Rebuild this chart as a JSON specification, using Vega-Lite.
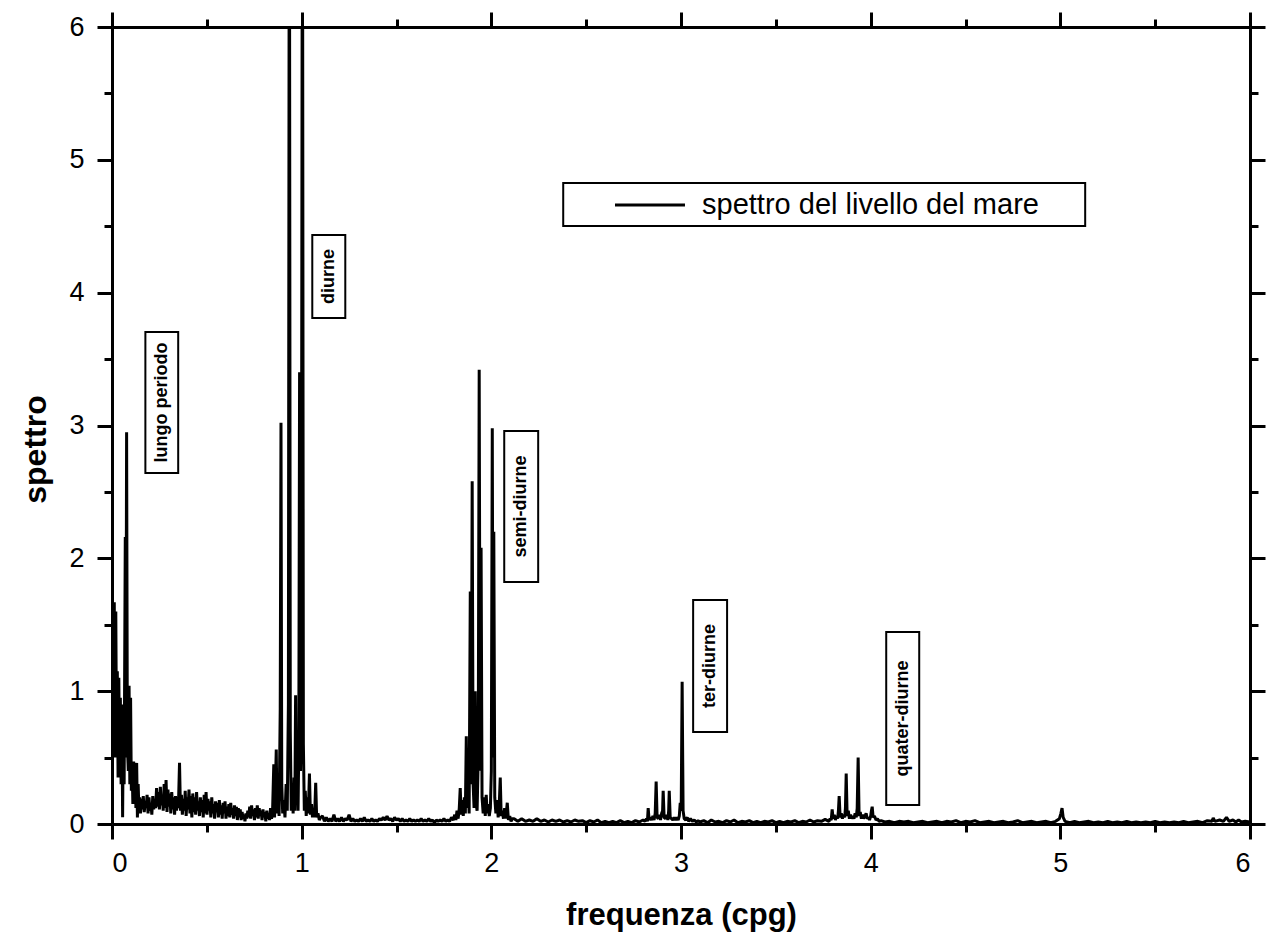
{
"$schema": "https://vega.github.io/schema/vega-lite/v6.json",
"width": 1138, "height": 797,
"autosize": {"type": "none"},
"padding": {"left": 112, "top": 27, "right": 18, "bottom": 113},
"background": "white",
"config": {"view": {"stroke": null}, "font": "Liberation Sans",
 "axis": {"domainColor": "black", "domainWidth": 3, "tickColor": "black", "tickWidth": 3, "labelColor": "black", "titleColor": "black", "labelFont": "Liberation Sans", "titleFont": "Liberation Sans", "grid": false}},
"datasets": {
"spec": [
{"f":0,"s":0.45},{"f":0.004,"s":1.55},{"f":0.008,"s":0.6},{"f":0.012,"s":1.67},{"f":0.016,"s":0.5},{"f":0.02,"s":1.6},{"f":0.024,"s":0.55},{"f":0.028,"s":1.15},{"f":0.032,"s":0.35},{"f":0.036,"s":1.1},{"f":0.04,"s":0.4},{"f":0.044,"s":0.95},{"f":0.048,"s":0.3},{"f":0.052,"s":0.9},{"f":0.056,"s":0.05},{"f":0.06,"s":0.85},{"f":0.064,"s":0.3},{"f":0.07,"s":2.16},{"f":0.073,"s":0.5},{"f":0.077,"s":2.95},{"f":0.081,"s":0.6},{"f":0.086,"s":0.4},{"f":0.09,"s":1.04},{"f":0.094,"s":0.3},{"f":0.098,"s":0.95},{"f":0.102,"s":0.25},{"f":0.106,"s":0.45},{"f":0.11,"s":0.15},{"f":0.114,"s":0.47},{"f":0.118,"s":0.2},{"f":0.122,"s":0.45},{"f":0.126,"s":0.12},{"f":0.13,"s":0.46},{"f":0.134,"s":0.05},{"f":0.138,"s":0.3},{"f":0.142,"s":0.1},{"f":0.146,"s":0.2},
{"f":0.15,"s":0.08},{"f":0.155,"s":0.19},{"f":0.16,"s":0.11},{"f":0.165,"s":0.21},{"f":0.17,"s":0.09},{"f":0.175,"s":0.17},{"f":0.18,"s":0.12},{"f":0.185,"s":0.22},{"f":0.19,"s":0.08},{"f":0.195,"s":0.2},{"f":0.2,"s":0.1},{"f":0.205,"s":0.16},{"f":0.21,"s":0.07},{"f":0.215,"s":0.21},{"f":0.22,"s":0.11},{"f":0.225,"s":0.18},{"f":0.23,"s":0.12},{"f":0.235,"s":0.27},{"f":0.24,"s":0.13},{"f":0.245,"s":0.24},{"f":0.25,"s":0.11},{"f":0.255,"s":0.28},{"f":0.26,"s":0.14},{"f":0.265,"s":0.22},{"f":0.27,"s":0.1},{"f":0.275,"s":0.3},{"f":0.28,"s":0.12},{"f":0.285,"s":0.33},{"f":0.29,"s":0.09},{"f":0.295,"s":0.26},{"f":0.3,"s":0.13},{"f":0.305,"s":0.23},{"f":0.31,"s":0.08},{"f":0.315,"s":0.24},{"f":0.32,"s":0.11},{"f":0.325,"s":0.2},{"f":0.33,"s":0.07},{"f":0.335,"s":0.21},{"f":0.34,"s":0.1},{"f":0.345,"s":0.17},{"f":0.35,"s":0.12},{"f":0.356,"s":0.46},{"f":0.361,"s":0.1},{"f":0.366,"s":0.22},{"f":0.371,"s":0.07},{"f":0.376,"s":0.19},{"f":0.381,"s":0.1},{"f":0.386,"s":0.25},{"f":0.391,"s":0.06},{"f":0.396,"s":0.2},{"f":0.401,"s":0.11},{"f":0.406,"s":0.26},{"f":0.411,"s":0.08},{"f":0.416,"s":0.21},{"f":0.421,"s":0.05},{"f":0.426,"s":0.23},{"f":0.431,"s":0.09},{"f":0.436,"s":0.2},{"f":0.441,"s":0.07},{"f":0.446,"s":0.24},{"f":0.451,"s":0.1},{"f":0.456,"s":0.17},{"f":0.461,"s":0.06},{"f":0.466,"s":0.2},{"f":0.471,"s":0.09},{"f":0.476,"s":0.18},{"f":0.481,"s":0.05},{"f":0.486,"s":0.22},{"f":0.491,"s":0.08},{"f":0.496,"s":0.24},{"f":0.501,"s":0.07},{"f":0.506,"s":0.19},{"f":0.511,"s":0.1},{"f":0.516,"s":0.17},{"f":0.521,"s":0.05},{"f":0.526,"s":0.2},{"f":0.531,"s":0.08},{"f":0.536,"s":0.15},{"f":0.541,"s":0.04},{"f":0.546,"s":0.17},{"f":0.551,"s":0.09},{"f":0.556,"s":0.16},{"f":0.561,"s":0.05},{"f":0.566,"s":0.18},{"f":0.571,"s":0.07},{"f":0.576,"s":0.14},{"f":0.581,"s":0.04},{"f":0.586,"s":0.16},{"f":0.591,"s":0.08},{"f":0.596,"s":0.17},{"f":0.601,"s":0.04},{"f":0.606,"s":0.13},{"f":0.611,"s":0.06},{"f":0.616,"s":0.15},{"f":0.621,"s":0.05},{"f":0.626,"s":0.16},{"f":0.631,"s":0.07},{"f":0.636,"s":0.12},{"f":0.641,"s":0.04},{"f":0.646,"s":0.14},{"f":0.651,"s":0.06},{"f":0.656,"s":0.13},{"f":0.661,"s":0.03},{"f":0.666,"s":0.12},{"f":0.671,"s":0.05},{"f":0.676,"s":0.11},{"f":0.681,"s":0.03},{"f":0.686,"s":0.09},{"f":0.691,"s":0.04},{"f":0.696,"s":0.07},{"f":0.701,"s":0.02},{"f":0.706,"s":0.08},{"f":0.711,"s":0.04},{"f":0.716,"s":0.1},{"f":0.721,"s":0.05},{"f":0.726,"s":0.13},{"f":0.731,"s":0.04},{"f":0.736,"s":0.14},{"f":0.741,"s":0.06},{"f":0.746,"s":0.11},{"f":0.751,"s":0.03},{"f":0.756,"s":0.12},{"f":0.761,"s":0.05},{"f":0.766,"s":0.14},{"f":0.771,"s":0.04},{"f":0.776,"s":0.12},{"f":0.781,"s":0.06},{"f":0.786,"s":0.1},{"f":0.791,"s":0.03},{"f":0.796,"s":0.11},{"f":0.801,"s":0.05},{"f":0.806,"s":0.09},{"f":0.811,"s":0.02},{"f":0.816,"s":0.1},{"f":0.821,"s":0.04},{"f":0.826,"s":0.08},{"f":0.831,"s":0.03},{"f":0.836,"s":0.12},{"f":0.841,"s":0.04},{"f":0.846,"s":0.07},
{"f":0.853,"s":0.45},{"f":0.857,"s":0.05},{"f":0.862,"s":0.3},{"f":0.866,"s":0.56},{"f":0.87,"s":0.08},{"f":0.876,"s":0.2},{"f":0.881,"s":0.06},{"f":0.887,"s":0.87},{"f":0.891,"s":3.02},{"f":0.895,"s":0.3},{"f":0.9,"s":0.08},{"f":0.906,"s":0.18},{"f":0.912,"s":0.05},{"f":0.918,"s":0.3},{"f":0.924,"s":0.1},{"f":0.93,"s":0.9},{"f":0.935,"s":8},{"f":0.94,"s":0.7},{"f":0.945,"s":0.1},{"f":0.95,"s":0.3},{"f":0.955,"s":0.08},{"f":0.96,"s":0.35},{"f":0.964,"s":0.1},{"f":0.968,"s":0.97},{"f":0.972,"s":0.15},{"f":0.977,"s":0.3},{"f":0.981,"s":0.1},{"f":0.985,"s":0.6},{"f":0.989,"s":3.4},{"f":0.994,"s":0.4},{"f":0.998,"s":0.8},{"f":1.004,"s":8},{"f":1.009,"s":0.6},{"f":1.014,"s":0.1},{"f":1.019,"s":0.25},{"f":1.024,"s":0.06},{"f":1.03,"s":0.2},{"f":1.035,"s":0.08},{"f":1.041,"s":0.38},{"f":1.046,"s":0.07},{"f":1.052,"s":0.15},{"f":1.057,"s":0.05},{"f":1.063,"s":0.12},{"f":1.068,"s":0.05},{"f":1.074,"s":0.31},{"f":1.079,"s":0.05},{"f":1.086,"s":0.08},{"f":1.093,"s":0.03},{"f":1.1,"s":0.05},
{"f":1.11,"s":0.06},{"f":1.12,"s":0.02},{"f":1.13,"s":0.05},{"f":1.14,"s":0.02},{"f":1.15,"s":0.04},{"f":1.16,"s":0.02},{"f":1.17,"s":0.07},{"f":1.18,"s":0.02},{"f":1.19,"s":0.04},{"f":1.2,"s":0.02},{"f":1.21,"s":0.05},{"f":1.22,"s":0.02},{"f":1.23,"s":0.04},{"f":1.24,"s":0.03},{"f":1.25,"s":0.07},{"f":1.26,"s":0.02},{"f":1.27,"s":0.04},{"f":1.28,"s":0.02},{"f":1.29,"s":0.03},{"f":1.3,"s":0.02},{"f":1.31,"s":0.04},{"f":1.32,"s":0.02},{"f":1.33,"s":0.05},{"f":1.34,"s":0.02},{"f":1.35,"s":0.03},{"f":1.36,"s":0.02},{"f":1.37,"s":0.04},{"f":1.38,"s":0.02},{"f":1.39,"s":0.03},{"f":1.4,"s":0.02},{"f":1.41,"s":0.04},{"f":1.42,"s":0.03},{"f":1.43,"s":0.05},{"f":1.44,"s":0.03},{"f":1.45,"s":0.06},{"f":1.46,"s":0.03},{"f":1.47,"s":0.04},{"f":1.48,"s":0.02},{"f":1.49,"s":0.05},{"f":1.5,"s":0.03},{"f":1.51,"s":0.04},{"f":1.52,"s":0.02},{"f":1.53,"s":0.04},{"f":1.54,"s":0.02},{"f":1.55,"s":0.03},{"f":1.56,"s":0.02},{"f":1.57,"s":0.04},{"f":1.58,"s":0.02},{"f":1.59,"s":0.03},{"f":1.6,"s":0.02},{"f":1.61,"s":0.03},{"f":1.62,"s":0.02},{"f":1.63,"s":0.04},{"f":1.64,"s":0.02},{"f":1.65,"s":0.03},{"f":1.66,"s":0.02},{"f":1.67,"s":0.04},{"f":1.68,"s":0.02},{"f":1.69,"s":0.03},{"f":1.7,"s":0.01},{"f":1.71,"s":0.03},{"f":1.72,"s":0.02},{"f":1.73,"s":0.03},{"f":1.74,"s":0.02},{"f":1.75,"s":0.04},{"f":1.76,"s":0.02},{"f":1.77,"s":0.03},{"f":1.78,"s":0.02},{"f":1.79,"s":0.05},
{"f":1.8,"s":0.03},{"f":1.807,"s":0.07},{"f":1.813,"s":0.03},{"f":1.819,"s":0.1},{"f":1.825,"s":0.04},{"f":1.831,"s":0.12},{"f":1.836,"s":0.27},{"f":1.841,"s":0.07},{"f":1.847,"s":0.18},{"f":1.852,"s":0.06},{"f":1.858,"s":0.2},{"f":1.863,"s":0.08},{"f":1.868,"s":0.66},{"f":1.873,"s":0.12},{"f":1.878,"s":0.3},{"f":1.883,"s":0.08},{"f":1.889,"s":1.75},{"f":1.894,"s":0.3},{"f":1.899,"s":2.58},{"f":1.904,"s":0.3},{"f":1.909,"s":0.12},{"f":1.915,"s":1.0},{"f":1.92,"s":0.15},{"f":1.925,"s":0.1},{"f":1.931,"s":0.5},{"f":1.936,"s":3.42},{"f":1.941,"s":0.4},{"f":1.946,"s":2.08},{"f":1.951,"s":0.2},{"f":1.957,"s":0.08},{"f":1.962,"s":0.2},{"f":1.968,"s":0.06},{"f":1.973,"s":0.22},{"f":1.978,"s":0.08},{"f":1.984,"s":0.15},{"f":1.989,"s":0.06},{"f":1.995,"s":0.12},{"f":2.0,"s":0.4},{"f":2.005,"s":2.98},{"f":2.009,"s":0.5},{"f":2.013,"s":2.2},{"f":2.018,"s":0.2},{"f":2.024,"s":0.08},{"f":2.03,"s":0.18},{"f":2.036,"s":0.05},{"f":2.041,"s":0.12},{"f":2.047,"s":0.35},{"f":2.052,"s":0.06},{"f":2.058,"s":0.1},{"f":2.064,"s":0.04},{"f":2.07,"s":0.12},{"f":2.076,"s":0.04},{"f":2.084,"s":0.16},{"f":2.09,"s":0.03},{"f":2.097,"s":0.06},{"f":2.104,"s":0.02},{"f":2.11,"s":0.04},
{"f":2.12,"s":0.04},{"f":2.14,"s":0.02},{"f":2.16,"s":0.04},{"f":2.18,"s":0.02},{"f":2.2,"s":0.03},{"f":2.22,"s":0.02},{"f":2.24,"s":0.04},{"f":2.26,"s":0.02},{"f":2.28,"s":0.03},{"f":2.3,"s":0.015},{"f":2.32,"s":0.03},{"f":2.34,"s":0.02},{"f":2.36,"s":0.03},{"f":2.38,"s":0.015},{"f":2.4,"s":0.025},{"f":2.42,"s":0.015},{"f":2.44,"s":0.03},{"f":2.46,"s":0.02},{"f":2.48,"s":0.025},{"f":2.5,"s":0.01},{"f":2.52,"s":0.025},{"f":2.54,"s":0.015},{"f":2.56,"s":0.03},{"f":2.58,"s":0.01},{"f":2.6,"s":0.02},{"f":2.62,"s":0.01},{"f":2.64,"s":0.02},{"f":2.66,"s":0.01},{"f":2.68,"s":0.025},{"f":2.7,"s":0.01},{"f":2.72,"s":0.02},{"f":2.74,"s":0.01},{"f":2.76,"s":0.025},{"f":2.78,"s":0.015},{"f":2.8,"s":0.03},
{"f":2.81,"s":0.02},{"f":2.818,"s":0.04},{"f":2.823,"s":0.02},{"f":2.827,"s":0.12},{"f":2.832,"s":0.03},{"f":2.839,"s":0.05},{"f":2.846,"s":0.03},{"f":2.852,"s":0.06},{"f":2.858,"s":0.03},{"f":2.864,"s":0.08},{"f":2.869,"s":0.32},{"f":2.874,"s":0.05},{"f":2.88,"s":0.04},{"f":2.886,"s":0.07},{"f":2.892,"s":0.03},{"f":2.898,"s":0.08},{"f":2.903,"s":0.1},{"f":2.906,"s":0.25},{"f":2.911,"s":0.05},{"f":2.918,"s":0.04},{"f":2.925,"s":0.07},{"f":2.931,"s":0.03},{"f":2.935,"s":0.1},{"f":2.938,"s":0.25},{"f":2.943,"s":0.05},{"f":2.95,"s":0.04},{"f":2.957,"s":0.03},{"f":2.964,"s":0.05},{"f":2.971,"s":0.03},{"f":2.978,"s":0.05},{"f":2.985,"s":0.03},{"f":2.991,"s":0.06},{"f":2.996,"s":0.16},{"f":3.001,"s":0.1},{"f":3.006,"s":1.07},{"f":3.011,"s":0.1},{"f":3.017,"s":0.04},{"f":3.025,"s":0.03},{"f":3.033,"s":0.05},{"f":3.04,"s":0.02},{"f":3.05,"s":0.04},{"f":3.06,"s":0.02},{"f":3.07,"s":0.03},{"f":3.08,"s":0.015},{"f":3.09,"s":0.025},{"f":3.1,"s":0.015},
{"f":3.12,"s":0.025},{"f":3.14,"s":0.01},{"f":3.16,"s":0.03},{"f":3.18,"s":0.015},{"f":3.2,"s":0.02},{"f":3.22,"s":0.01},{"f":3.24,"s":0.025},{"f":3.26,"s":0.015},{"f":3.28,"s":0.03},{"f":3.3,"s":0.01},{"f":3.32,"s":0.02},{"f":3.34,"s":0.015},{"f":3.36,"s":0.025},{"f":3.38,"s":0.01},{"f":3.4,"s":0.02},{"f":3.42,"s":0.01},{"f":3.44,"s":0.02},{"f":3.46,"s":0.015},{"f":3.48,"s":0.025},{"f":3.5,"s":0.01},{"f":3.52,"s":0.02},{"f":3.54,"s":0.01},{"f":3.56,"s":0.02},{"f":3.58,"s":0.015},{"f":3.6,"s":0.025},{"f":3.62,"s":0.01},{"f":3.64,"s":0.02},{"f":3.66,"s":0.015},{"f":3.68,"s":0.03},{"f":3.7,"s":0.015},{"f":3.72,"s":0.025},{"f":3.74,"s":0.02},{"f":3.76,"s":0.035},
{"f":3.78,"s":0.02},{"f":3.786,"s":0.04},{"f":3.792,"s":0.03},{"f":3.797,"s":0.11},{"f":3.802,"s":0.04},{"f":3.808,"s":0.07},{"f":3.814,"s":0.03},{"f":3.82,"s":0.06},{"f":3.826,"s":0.04},{"f":3.83,"s":0.1},{"f":3.834,"s":0.21},{"f":3.839,"s":0.05},{"f":3.845,"s":0.08},{"f":3.851,"s":0.04},{"f":3.857,"s":0.07},{"f":3.863,"s":0.05},{"f":3.867,"s":0.12},{"f":3.871,"s":0.38},{"f":3.876,"s":0.06},{"f":3.882,"s":0.1},{"f":3.888,"s":0.04},{"f":3.894,"s":0.07},{"f":3.9,"s":0.04},{"f":3.906,"s":0.06},{"f":3.912,"s":0.04},{"f":3.918,"s":0.08},{"f":3.924,"s":0.05},{"f":3.929,"s":0.12},{"f":3.934,"s":0.5},{"f":3.939,"s":0.06},{"f":3.945,"s":0.09},{"f":3.951,"s":0.04},{"f":3.957,"s":0.07},{"f":3.963,"s":0.04},{"f":3.97,"s":0.06},{"f":3.976,"s":0.08},{"f":3.982,"s":0.04},{"f":3.988,"s":0.05},{"f":3.994,"s":0.03},{"f":4.0,"s":0.06},{"f":4.004,"s":0.1},{"f":4.008,"s":0.13},{"f":4.013,"s":0.05},{"f":4.02,"s":0.06},{"f":4.028,"s":0.03},{"f":4.036,"s":0.04},{"f":4.045,"s":0.02},{"f":4.055,"s":0.025},
{"f":4.075,"s":0.015},{"f":4.1,"s":0.02},{"f":4.125,"s":0.01},{"f":4.15,"s":0.02},{"f":4.175,"s":0.015},{"f":4.2,"s":0.02},{"f":4.225,"s":0.01},{"f":4.25,"s":0.015},{"f":4.275,"s":0.02},{"f":4.3,"s":0.01},{"f":4.325,"s":0.015},{"f":4.35,"s":0.02},{"f":4.375,"s":0.01},{"f":4.4,"s":0.02},{"f":4.425,"s":0.015},{"f":4.45,"s":0.025},{"f":4.475,"s":0.01},{"f":4.5,"s":0.02},{"f":4.525,"s":0.015},{"f":4.55,"s":0.025},{"f":4.575,"s":0.01},{"f":4.6,"s":0.015},{"f":4.625,"s":0.02},{"f":4.65,"s":0.01},{"f":4.675,"s":0.015},{"f":4.7,"s":0.02},{"f":4.725,"s":0.01},{"f":4.75,"s":0.015},{"f":4.775,"s":0.025},{"f":4.8,"s":0.01},{"f":4.825,"s":0.015},{"f":4.85,"s":0.02},{"f":4.875,"s":0.01},{"f":4.9,"s":0.015},{"f":4.925,"s":0.02},{"f":4.95,"s":0.01},{"f":4.975,"s":0.02},{"f":4.995,"s":0.04},{"f":5.003,"s":0.08},{"f":5.009,"s":0.12},{"f":5.015,"s":0.05},{"f":5.025,"s":0.02},{"f":5.05,"s":0.01},{"f":5.075,"s":0.02},{"f":5.1,"s":0.01},{"f":5.125,"s":0.015},{"f":5.15,"s":0.02},{"f":5.175,"s":0.01},{"f":5.2,"s":0.015},{"f":5.225,"s":0.01},{"f":5.25,"s":0.02},{"f":5.275,"s":0.01},{"f":5.3,"s":0.015},{"f":5.325,"s":0.01},{"f":5.35,"s":0.02},{"f":5.375,"s":0.01},{"f":5.4,"s":0.015},{"f":5.425,"s":0.01},{"f":5.45,"s":0.015},{"f":5.475,"s":0.01},{"f":5.5,"s":0.02},{"f":5.525,"s":0.01},{"f":5.55,"s":0.015},{"f":5.575,"s":0.01},{"f":5.6,"s":0.015},{"f":5.625,"s":0.01},{"f":5.65,"s":0.02},{"f":5.675,"s":0.01},{"f":5.7,"s":0.015},{"f":5.725,"s":0.02},{"f":5.75,"s":0.01},{"f":5.775,"s":0.025},{"f":5.8,"s":0.02},{"f":5.806,"s":0.045},{"f":5.815,"s":0.02},{"f":5.84,"s":0.03},{"f":5.86,"s":0.02},{"f":5.876,"s":0.05},{"f":5.89,"s":0.02},{"f":5.91,"s":0.03},{"f":5.925,"s":0.015},{"f":5.94,"s":0.03},{"f":5.955,"s":0.015},{"f":5.975,"s":0.02},{"f":6.0,"s":0.015}
],
"notes": [
{"label":"lungo periodo","x0":0.176,"x1":0.349,"y0":2.642,"y1":3.704,"cx":0.2625,"cy":3.173},
{"label":"diurne","x0":1.056,"x1":1.23,"y0":3.809,"y1":4.434,"cx":1.143,"cy":4.122},
{"label":"semi-diurne","x0":2.068,"x1":2.247,"y0":1.822,"y1":2.959,"cx":2.158,"cy":2.39},
{"label":"ter-diurne","x0":3.064,"x1":3.243,"y0":0.693,"y1":1.686,"cx":3.154,"cy":1.19},
{"label":"quater-diurne","x0":4.082,"x1":4.256,"y0":0.143,"y1":1.445,"cx":4.169,"cy":0.794}
],
"legend": [
{"name":"spettro del livello del mare","x0":2.379,"x1":5.131,"y0":4.502,"y1":4.826,"lx0":2.652,"lx1":3.021,"ly":4.66,"tx":3.111}
]
},
"layer": [
{"data": {"name": "spec"},
 "mark": {"type": "line", "color": "black", "strokeWidth": 3, "clip": true, "strokeJoin": "bevel"},
 "encoding": {
  "x": {"field": "f", "type": "quantitative", "scale": {"domain": [0, 6], "nice": false, "zero": false},
   "axis": {"orient": "bottom", "values": [0,1,2,3,4,5,6], "format": "d", "tickSize": 15, "labelFontSize": 27, "labelPadding": 11, "title": "frequenza (cpg)", "titleFontSize": 31, "titleFontWeight": "bold", "titleY": 100, "titleBaseline": "alphabetic"}},
  "y": {"field": "s", "type": "quantitative", "scale": {"domain": [0, 6], "nice": false, "zero": false},
   "axis": {"orient": "left", "values": [0,1,2,3,4,5,6], "format": "d", "tickSize": 15, "labelFontSize": 27, "labelPadding": 13, "title": "spettro", "titleFontSize": 32, "titleFontWeight": "bold", "titleX": -77, "titleY": 422, "titleAngle": -90, "titleAlign": "center", "titleBaseline": "middle"}}
 }},
{"data": {"name": "notes"},
 "mark": {"type": "rect", "fill": "white", "stroke": "black", "strokeWidth": 2},
 "encoding": {
  "x": {"field": "x0", "type": "quantitative", "scale": {"domain": [0, 6], "nice": false, "zero": false},
   "axis": {"orient": "bottom", "values": [0.5,1.5,2.5,3.5,4.5,5.5], "tickSize": 8, "labels": false, "domain": false, "title": null}},
  "x2": {"field": "x1"},
  "y": {"field": "y0", "type": "quantitative", "scale": {"domain": [0, 6], "nice": false, "zero": false},
   "axis": {"orient": "left", "values": [0.5,1.5,2.5,3.5,4.5,5.5], "tickSize": 8, "labels": false, "domain": false, "title": null}},
  "y2": {"field": "y1"}
 }},
{"data": {"name": "notes"},
 "mark": {"type": "text", "angle": 270, "fontSize": 18, "fontWeight": "bold", "color": "black", "align": "center", "baseline": "middle", "font": "Liberation Sans"},
 "encoding": {
  "x": {"field": "cx", "type": "quantitative", "scale": {"domain": [0, 6], "nice": false, "zero": false},
   "axis": {"orient": "top", "values": [0,1,2,3,4,5,6], "tickSize": 15, "labels": false, "title": null}},
  "y": {"field": "cy", "type": "quantitative", "scale": {"domain": [0, 6], "nice": false, "zero": false},
   "axis": {"orient": "right", "values": [0,1,2,3,4,5,6], "tickSize": 15, "labels": false, "title": null}},
  "text": {"field": "label"}
 }},
{"data": {"name": "legend"},
 "mark": {"type": "rect", "fill": "white", "stroke": "black", "strokeWidth": 2},
 "encoding": {
  "x": {"field": "x0", "type": "quantitative", "scale": {"domain": [0, 6], "nice": false, "zero": false},
   "axis": {"orient": "top", "values": [0.5,1.5,2.5,3.5,4.5,5.5], "tickSize": 8, "labels": false, "domain": false, "title": null}},
  "x2": {"field": "x1"},
  "y": {"field": "y0", "type": "quantitative", "scale": {"domain": [0, 6], "nice": false, "zero": false},
   "axis": {"orient": "right", "values": [0.5,1.5,2.5,3.5,4.5,5.5], "tickSize": 8, "labels": false, "domain": false, "title": null}},
  "y2": {"field": "y1"}
 }},
{"data": {"name": "legend"},
 "mark": {"type": "rule", "color": "black", "strokeWidth": 3},
 "encoding": {
  "x": {"field": "lx0", "type": "quantitative", "axis": null},
  "x2": {"field": "lx1"},
  "y": {"field": "ly", "type": "quantitative", "axis": null}
 }},
{"data": {"name": "legend"},
 "mark": {"type": "text", "align": "left", "baseline": "middle", "fontSize": 29, "color": "black", "font": "Liberation Sans"},
 "encoding": {
  "x": {"field": "tx", "type": "quantitative", "axis": null},
  "y": {"field": "ly", "type": "quantitative", "axis": null},
  "text": {"field": "name"}
 }}
],
"resolve": {"axis": {"x": "independent", "y": "independent"}}
}
